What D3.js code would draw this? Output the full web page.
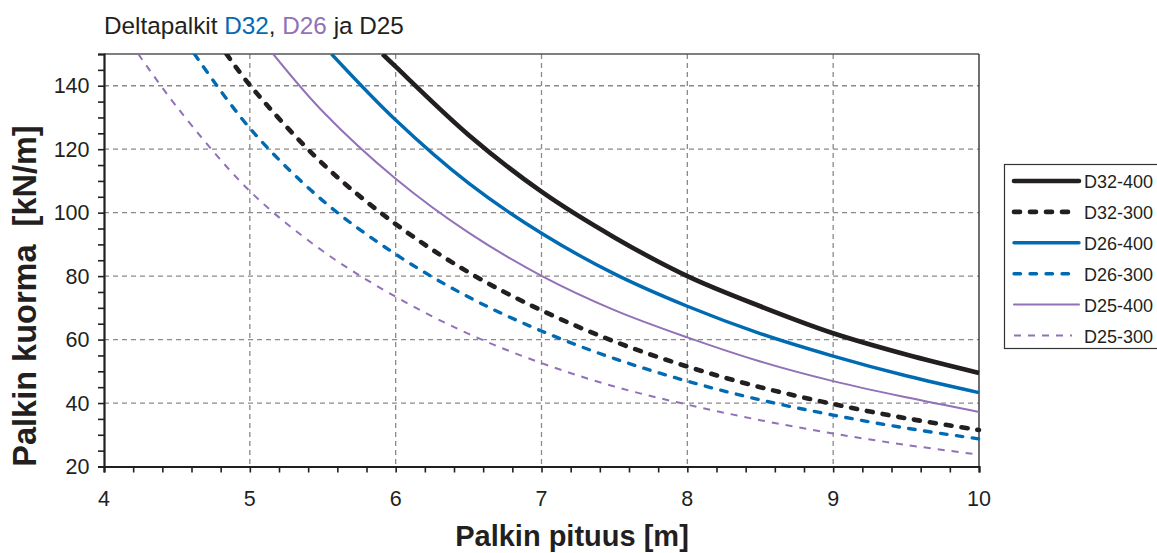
<!DOCTYPE html>
<html><head><meta charset="utf-8">
<script src="https://cdn.jsdelivr.net/npm/d3@7"></script>
<style>body{margin:0;background:#fff;} svg{display:block;font-family:"Liberation Sans",Arial,Helvetica,sans-serif;}</style>
</head><body>
<svg id="c" width="1157" height="553"></svg>
<script>
// ---- data ----
const xTicks = [4, 5, 6, 7, 8, 9, 10];
const yTicks = [20, 40, 60, 80, 100, 120, 140];
const seriesNames = ["D32-400", "D32-300", "D26-400", "D26-300", "D25-400", "D25-300"];
const d32_400 = [[5.91,150],[6.0,146],[6.5,124.5],[7.0,106.6],[7.5,92.2],[8.0,80],[8.5,70.5],[9.0,62],[9.5,55.3],[10.0,49.5]];
const d32_300 = [[4.84,150],[5.0,140.2],[5.5,115.4],[6.0,96.4],[6.5,81.2],[7.0,69.2],[7.5,59.4],[8.0,51.5],[8.5,45.0],[9.0,39.7],[9.5,35.2],[10.0,31.5]];
const d26_400 = [[5.56,150],[6.0,129.2],[6.5,109.3],[7.0,93.5],[7.5,80.7],[8.0,70.5],[8.5,61.9],[9.0,54.8],[9.5,48.6],[10.0,43.3]];
const d26_300 = [[4.62,150],[5.0,126.6],[5.5,103.8],[6.0,86.9],[6.5,73.4],[7.0,62.7],[7.5,54.0],[8.0,46.9],[8.5,41.0],[9.0,36.2],[9.5,32.1],[10.0,28.7]];
const d25_400 = [[5.16,150],[5.5,131.9],[6.0,110.7],[6.5,93.7],[7.0,80.1],[7.5,69.3],[8.0,60.7],[8.5,53.1],[9.0,46.9],[9.5,41.8],[10.0,37.2]];
const d25_300 = [[4.235,150],[4.5,133.3],[5.0,106.8],[5.5,87.9],[6.0,73.5],[6.5,61.8],[7.0,52.6],[7.5,45.2],[8.0,39.5],[8.5,34.6],[9.0,30.4],[9.5,26.8],[10.0,23.75]];
const seriesData = [d32_400, d32_300, d26_400, d26_300, d25_400, d25_300];

// ---- styles ----
const BLACK = "#231f20", BLUE = "#006bb3", PURPLE = "#9171b8";
const styles = [
  {c: BLACK, w: 4.6, dash: null, cap: "butt"},
  {c: BLACK, w: 4.6, dash: "6,10", cap: "round"},
  {c: BLUE, w: 3.4, dash: null, cap: "butt"},
  {c: BLUE, w: 3.4, dash: "6.5,9.5", cap: "round"},
  {c: PURPLE, w: 2, dash: null, cap: "butt"},
  {c: PURPLE, w: 2, dash: "7,7", cap: "butt"}
];

const svg = d3.select("#c");
const L = 104, R = 979, T = 54, B = 466.5;
const x = d3.scaleLinear().domain([4, 10]).range([L, R]);
const y = d3.scaleLinear().domain([20, 150]).range([B, T]);

// grid
const grid = svg.append("g");
grid.selectAll(".gx").data(xTicks.slice(1, -1)).enter().append("line")
  .attr("x1", d => x(d)).attr("x2", d => x(d)).attr("y1", T).attr("y2", B)
  .attr("stroke", "#8a8a8a").attr("stroke-width", 1.3).attr("stroke-dasharray", "5,4");
grid.selectAll(".gy").data(yTicks.slice(1)).enter().append("line")
  .attr("x1", L).attr("x2", R).attr("y1", d => y(d)).attr("y2", d => y(d))
  .attr("stroke", "#8a8a8a").attr("stroke-width", 1.3).attr("stroke-dasharray", "5,4");

// frame top/right
svg.append("line").attr("x1", L).attr("x2", R).attr("y1", T).attr("y2", T).attr("stroke", "#555").attr("stroke-width", 1.4);
svg.append("line").attr("x1", R).attr("x2", R).attr("y1", T).attr("y2", B).attr("stroke", "#333").attr("stroke-width", 1.4);

// clip
svg.append("clipPath").attr("id", "clip").append("rect").attr("x", L).attr("y", T).attr("width", R - L + 3).attr("height", B - T);

const line = d3.line().x(d => x(d[0])).y(d => y(d[1])).curve(d3.curveCatmullRom.alpha(0.5));
const lines = svg.append("g").attr("clip-path", "url(#clip)");
seriesData.forEach((s, i) => {
  const st = styles[i];
  lines.append("path").datum(s).attr("d", line).attr("fill", "none")
    .attr("stroke", st.c).attr("stroke-width", st.w)
    .attr("stroke-dasharray", st.dash).attr("stroke-linecap", st.cap);
});

// axes
const xAxis = d3.axisBottom(x).tickValues(d3.range(4, 10.001, 0.2)).tickSize(6).tickFormat("");
const gx = svg.append("g").attr("transform", `translate(0,${B})`).call(xAxis);
gx.select(".domain").attr("stroke", BLACK).attr("stroke-width", 2.2);
gx.selectAll(".tick line").attr("stroke", BLACK).attr("stroke-width", 1.6);
svg.append("g").selectAll("text").data(xTicks).enter().append("text")
  .attr("x", d => x(d)).attr("y", 505.5).attr("text-anchor", "middle")
  .attr("font-size", 21.5).attr("fill", BLACK).text(d => d);

const yAxis = d3.axisLeft(y).tickValues(d3.range(20, 150.001, 5)).tickSize(6).tickFormat("");
const gy = svg.append("g").attr("transform", `translate(${L},0)`).call(yAxis);
gy.select(".domain").attr("stroke", BLACK).attr("stroke-width", 2.2);
gy.selectAll(".tick line").attr("stroke", BLACK).attr("stroke-width", 1.6);
svg.append("g").selectAll("text").data(yTicks).enter().append("text")
  .attr("x", 89.5).attr("y", d => y(d) + 7.5).attr("text-anchor", "end")
  .attr("font-size", 21.5).attr("fill", BLACK).text(d => d);

// title
const title = svg.append("text").attr("x", 104).attr("y", 33.5).attr("font-size", 24.3).attr("fill", BLACK);
title.append("tspan").text("Deltapalkit ");
title.append("tspan").attr("fill", BLUE).text("D32");
title.append("tspan").text(", ");
title.append("tspan").attr("fill", PURPLE).text("D26");
title.append("tspan").text(" ja D25");

// axis titles
svg.append("text").attr("x", 572).attr("y", 546).attr("text-anchor", "middle")
  .attr("font-size", 29).attr("font-weight", "bold").attr("fill", BLACK).text("Palkin pituus [m]");
svg.append("text").attr("transform", "translate(36,296) rotate(-90)").attr("text-anchor", "middle")
  .attr("font-size", 32.5).attr("font-weight", "bold").attr("fill", BLACK)
  .style("white-space", "pre").text("Palkin kuorma  [kN/m]");

// legend
const lg = svg.append("g");
lg.append("rect").attr("x", 1004.5).attr("y", 164.5).attr("width", 170).attr("height", 184)
  .attr("fill", "#fff").attr("stroke", "#333").attr("stroke-width", 1.2);
seriesNames.forEach((n, i) => {
  const st = styles[i];
  const yy = 181 + i * 30.9;
  lg.append("line").attr("x1", 1014).attr("x2", st.dash ? 1072 : 1079).attr("y1", yy).attr("y2", yy)
    .attr("stroke", st.c).attr("stroke-width", st.w).attr("stroke-dasharray", st.dash)
    .attr("stroke-linecap", st.dash ? st.cap : "round");
  lg.append("text").attr("x", 1084).attr("y", yy + 7).attr("font-size", 18).attr("fill", BLACK).text(n);
});
</script>
</body></html>
